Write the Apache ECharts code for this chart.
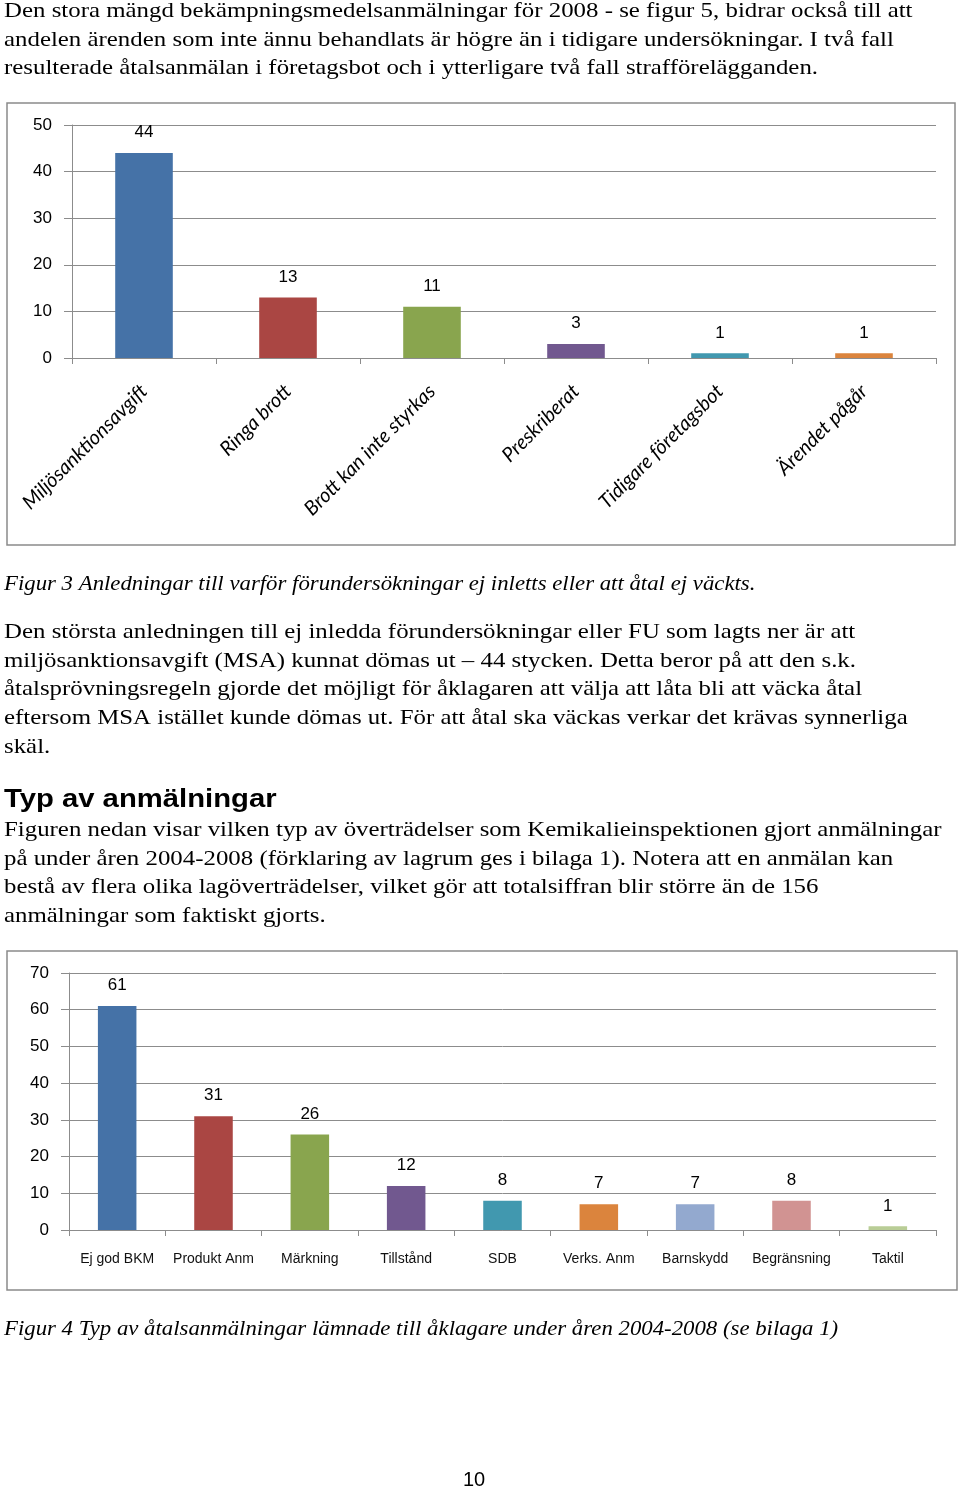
<!DOCTYPE html>
<html>
<head>
<meta charset="utf-8">
<script src="https://cdn.jsdelivr.net/npm/echarts@6/dist/echarts.min.js"></script>
<style>
html,body{margin:0;padding:0;background:#fff;}
#main{width:960px;height:1490px;}
</style>
</head>
<body>
<div id="main"></div>
<script>
// ---- Chart 1 data ----
const reasonCategories = ['Miljösanktionsavgift','Ringa brott','Brott kan inte styrkas','Preskriberat','Tidigare företagsbot','Ärendet pågår'];
const reasonValues = [44, 13, 11, 3, 1, 1];
const reasonColors = ['#4572A7','#AA4643','#89A54E','#71588F','#4198AF','#DB843D'];
const reasonTicks = [0, 10, 20, 30, 40, 50];

// ---- Chart 2 data ----
const typeCategories = ['Ej god BKM','Produkt Anm','Märkning','Tillstånd','SDB','Verks. Anm','Barnskydd','Begränsning','Taktil'];
const typeValues = [61, 31, 26, 12, 8, 7, 7, 8, 1];
const typeColors = ['#4572A7','#AA4643','#89A54E','#71588F','#4198AF','#DB843D','#93A9CF','#D19392','#B9CD96'];
const typeTicks = [0, 10, 20, 30, 40, 50, 60, 70];

// ---- Document text ----
const introLines = [
  'Den stora mängd bekämpningsmedelsanmälningar för 2008 - se figur 5, bidrar också till att',
  'andelen ärenden som inte ännu behandlats är högre än i tidigare undersökningar. I två fall',
  'resulterade åtalsanmälan i företagsbot och i ytterligare två fall strafförelägganden.'
];
const caption1 = 'Figur 3 Anledningar till varför förundersökningar ej inletts eller att åtal ej väckts.';
const para1Lines = [
  'Den största anledningen till ej inledda förundersökningar eller FU som lagts ner är att',
  'miljösanktionsavgift (MSA) kunnat dömas ut – 44 stycken. Detta beror på att den s.k.',
  'åtalsprövningsregeln gjorde det möjligt för åklagaren att välja att låta bli att väcka åtal',
  'eftersom MSA istället kunde dömas ut. För att åtal ska väckas verkar det krävas synnerliga',
  'skäl.'
];
const heading = 'Typ av anmälningar';
const para2Lines = [
  'Figuren nedan visar vilken typ av överträdelser som Kemikalieinspektionen gjort anmälningar',
  'på under åren 2004-2008 (förklaring av lagrum ges i bilaga 1). Notera att en anmälan kan',
  'bestå av flera olika lagöverträdelser, vilket gör att totalsiffran blir större än de 156',
  'anmälningar som faktiskt gjorts.'
];
const caption2 = 'Figur 4 Typ av åtalsanmälningar lämnade till åklagare under åren 2004-2008 (se bilaga 1)';
const pageNumber = '10';

const SERIF = '"Liberation Serif","Times New Roman",serif';
const SANS = '"Liberation Sans",Arial,sans-serif';
const BODY = '22px ' + SERIF;
const LINE = 28.8;

function textEl(str, x, y, font, align, sx) {
  return {
    type: 'text', x: x, y: y, scaleX: sx || 1, silent: true,
    style: { text: str, font: font, fill: '#000', align: align || 'left', verticalAlign: 'middle' }
  };
}

const graphics = [];
// chart frames
graphics.push({type:'rect', shape:{x:7, y:103, width:948, height:442}, style:{fill:'none', stroke:'#8a8a8a', lineWidth:1.5}, silent:true, z:-1});
graphics.push({type:'rect', shape:{x:7, y:951, width:950, height:339}, style:{fill:'none', stroke:'#8a8a8a', lineWidth:1.5}, silent:true, z:-1});

const REG_SX = 1.13, IT_SX = 1.036;
introLines.forEach((t, i) => graphics.push(textEl(t, 4, 11 + i * LINE, BODY, 'left', REG_SX)));
graphics.push(textEl(caption1, 4, 584, 'italic ' + BODY, 'left', IT_SX));
para1Lines.forEach((t, i) => graphics.push(textEl(t, 4, 632 + i * LINE, BODY, 'left', REG_SX)));
graphics.push(textEl(heading, 4, 800, 'bold 26px ' + SANS, 'left', 1.125));
para2Lines.forEach((t, i) => graphics.push(textEl(t, 4, 830 + i * LINE, BODY, 'left', REG_SX)));
graphics.push(textEl(caption2, 4, 1329, 'italic ' + BODY, 'left', IT_SX));
graphics.push(textEl(pageNumber, 474, 1480, '20px ' + SANS, 'center', 1));

const GRAY = '#8c8c8c';

function valueAxis(gridIndex, ticks) {
  return {
    type: 'value', gridIndex: gridIndex,
    min: ticks[0], max: ticks[ticks.length - 1], interval: ticks[1] - ticks[0],
    axisLine: { show: true, lineStyle: { color: GRAY, width: 1 } },
    axisTick: { show: true, length: 8, lineStyle: { color: GRAY } },
    splitLine: { show: true, lineStyle: { color: GRAY, width: 1 } },
    axisLabel: { fontFamily: SANS, fontSize: 17, color: '#000', margin: 20 }
  };
}

const option = {
  animation: false,
  backgroundColor: '#fff',
  graphic: graphics,
  grid: [
    { left: 72, top: 125, width: 864, height: 233, containLabel: false },
    { left: 69, top: 973, width: 867, height: 257, containLabel: false }
  ],
  xAxis: [
    {
      type: 'category', gridIndex: 0, data: reasonCategories,
      axisLine: { lineStyle: { color: GRAY, width: 1 } },
      axisTick: { show: true, length: 6, lineStyle: { color: GRAY } },
      axisLabel: { rotate: 45, interval: 0, fontStyle: 'italic', fontFamily: 'Lato,"Open Sans",sans-serif', fontSize: 20, color: '#000', margin: 30 }
    },
    {
      type: 'category', gridIndex: 1, data: typeCategories,
      axisLine: { lineStyle: { color: GRAY, width: 1 } },
      axisTick: { show: true, length: 6, lineStyle: { color: GRAY } },
      axisLabel: { interval: 0, fontFamily: SANS, fontSize: 14, color: '#111', margin: 22 }
    }
  ],
  yAxis: [ valueAxis(0, reasonTicks), valueAxis(1, typeTicks) ],
  series: [
    {
      type: 'bar', xAxisIndex: 0, yAxisIndex: 0, barWidth: '40%',
      data: reasonValues.map((v, i) => ({ value: v, itemStyle: { color: reasonColors[i] } })),
      label: { show: true, position: 'top', distance: 12, fontFamily: SANS, fontSize: 17, color: '#000' }
    },
    {
      type: 'bar', xAxisIndex: 1, yAxisIndex: 1, barWidth: '40%',
      data: typeValues.map((v, i) => ({ value: v, itemStyle: { color: typeColors[i] } })),
      label: { show: true, position: 'top', distance: 12, fontFamily: SANS, fontSize: 17, color: '#000' }
    }
  ]
};

const chart = echarts.init(document.getElementById('main'), null, { renderer: 'canvas', width: 960, height: 1490 });
chart.setOption(option);
</script>
</body>
</html>
